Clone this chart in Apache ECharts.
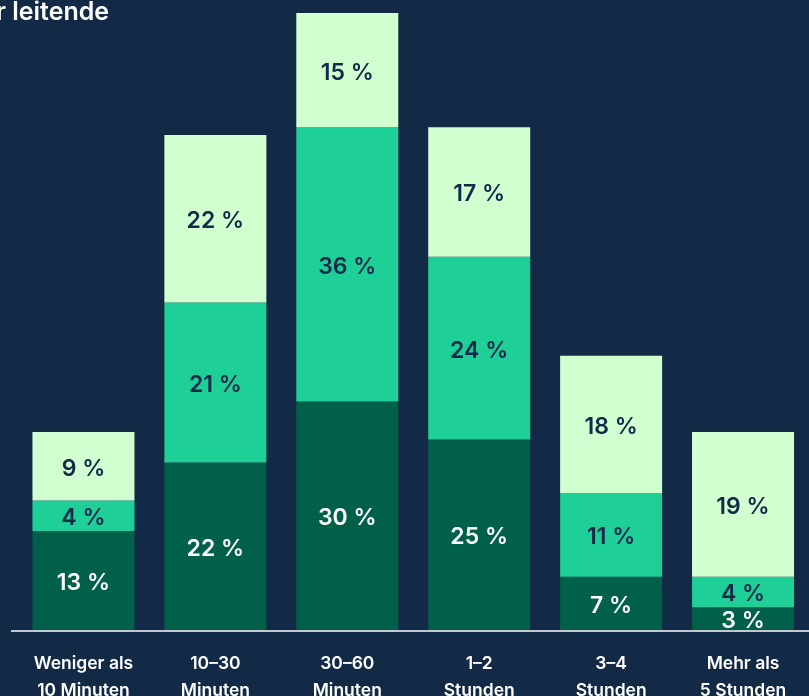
<!DOCTYPE html>
<html><head><meta charset="utf-8">
<script src="https://cdn.jsdelivr.net/npm/echarts@6/dist/echarts.min.js"></script>
<style>html,body{margin:0;padding:0;background:#132A47;}#c{width:809px;height:696px;}</style>
</head><body><div id="c"></div>
<script>
const categories = ['Weniger als\n10 Minuten', '10–30\nMinuten', '30–60\nMinuten', '1–2\nStunden', '3–4\nStunden', 'Mehr als\n5 Stunden'];
const seriesDark = [13, 22, 30, 25, 7, 3];
const seriesMid = [4, 21, 36, 24, 11, 4];
const seriesLight = [9, 22, 15, 17, 18, 19];
const titleText = 'r leitende';

const chart = echarts.init(document.getElementById('c'));
const font = 'Inter, "Noto Sans", sans-serif';
function mk(name, data, color, labelColor) {
  return {
    name, type: 'bar', stack: 'a', data, barWidth: 102,
    itemStyle: { color },
    label: { show: true, position: 'inside', offset: [0, 2.5], formatter: p => p.value + ' %', color: labelColor,
      fontFamily: font, fontSize: 23, fontWeight: 600 }
  };
}
chart.setOption({
  backgroundColor: '#132A47',
  animation: false,
  grid: { left: 17.5, right: 0, top: 13, bottom: 66, containLabel: false, outerBoundsMode: 'none' },
  xAxis: { type: 'category', data: categories,
    axisLine: { show: false }, axisTick: { show: false },
    axisLabel: { color: '#ffffff', fontFamily: font, fontSize: 17.5, fontWeight: 600, lineHeight: 27, margin: 20, interval: 0 } },
  yAxis: { type: 'value', min: 0, max: 81, show: false },
  series: [
    mk('dark', seriesDark, '#00604A', '#ffffff'),
    mk('mid', seriesMid, '#1FCF98', '#13294A'),
    mk('light', seriesLight, '#D2FFD0', '#13294A')
  ],
  graphic: [
    { type: 'line', shape: { x1: 11, y1: 631, x2: 809, y2: 631 }, style: { stroke: '#C3C7CF', lineWidth: 2 }, z: 10 },
    { type: 'text', left: -4, top: 0, style: { text: titleText, fill: '#ffffff', font: '600 25px ' + font } }
  ]
});
</script></body></html>
